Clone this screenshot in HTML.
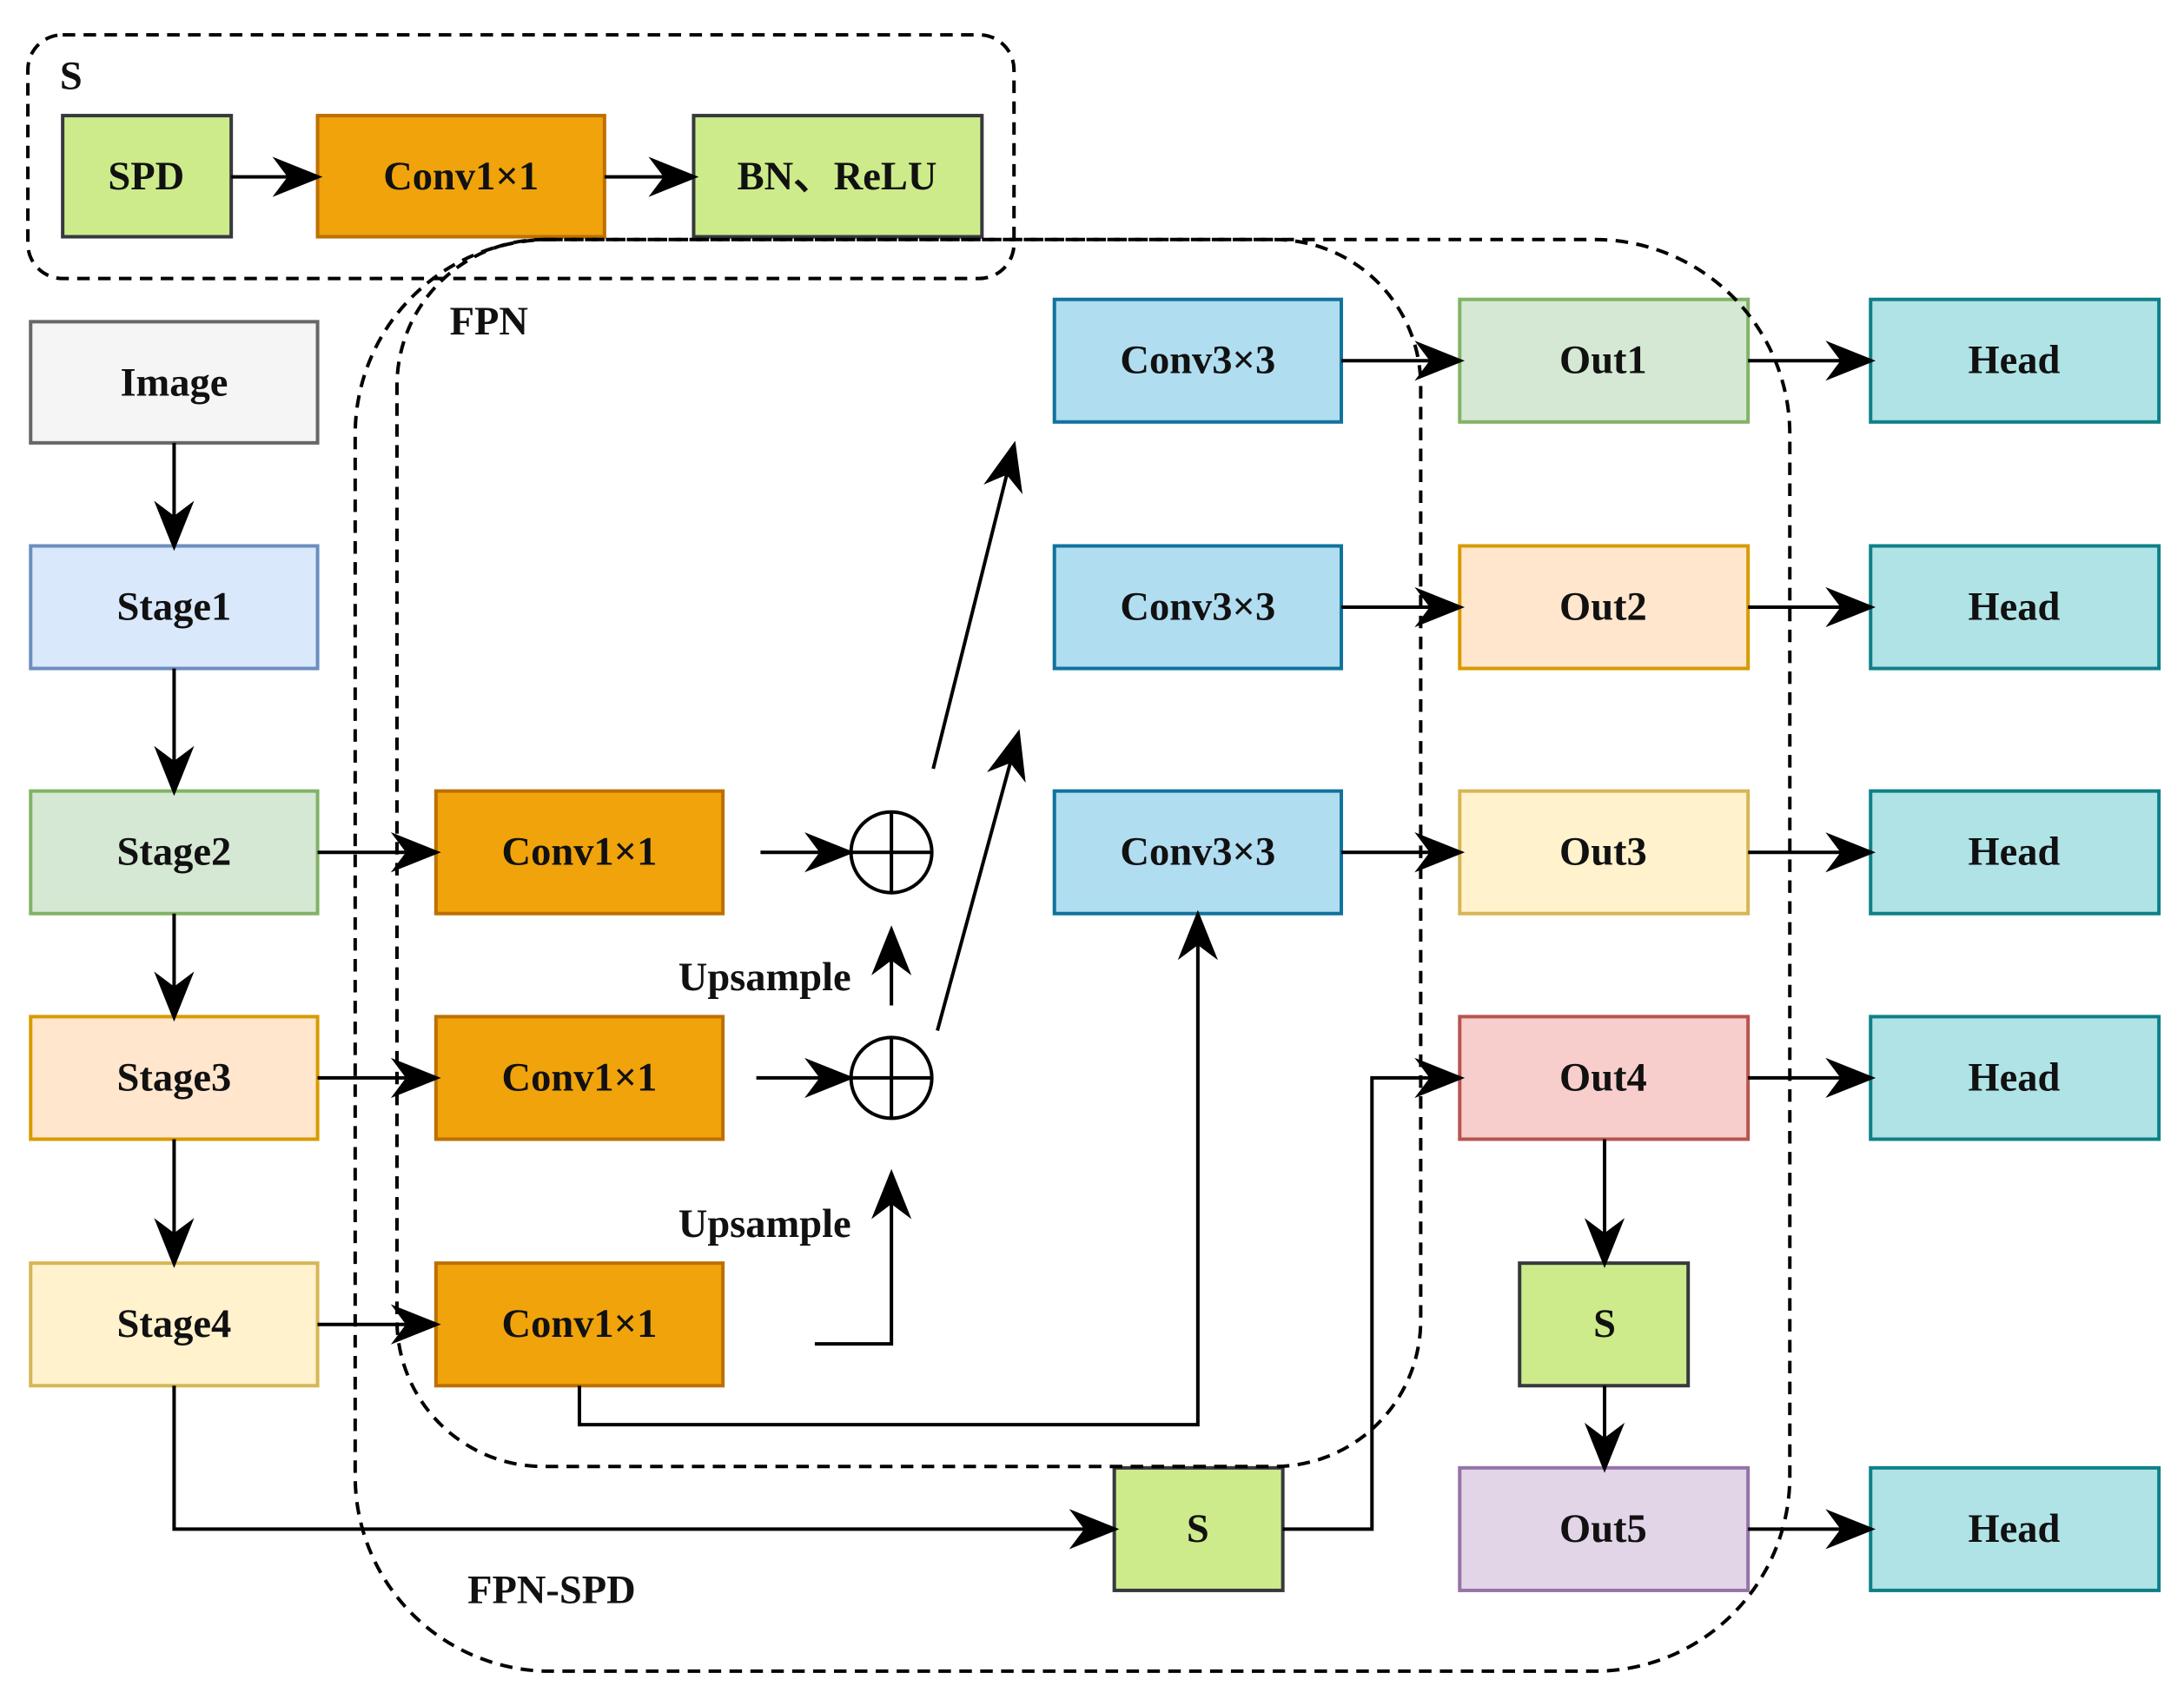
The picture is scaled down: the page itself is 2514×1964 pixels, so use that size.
<!DOCTYPE html>
<html><head><meta charset="utf-8"><style>
html,body{margin:0;padding:0;background:#fff;}
svg{display:block;}
text{font-family:"Liberation Serif",serif;font-weight:bold;font-size:29px;text-anchor:middle;dominant-baseline:central;fill:#111;}
</style></head><body>
<svg width="2514" height="1964" viewBox="0 0 1568 1225" preserveAspectRatio="none" xmlns="http://www.w3.org/2000/svg">
<defs>
<marker id="b" viewBox="0 0 10 10" refX="9" refY="5" markerWidth="36" markerHeight="36" markerUnits="userSpaceOnUse" orient="auto">
<path d="M0,1 L10,5 L0,9 L3,5 z" fill="#000"/></marker>
</defs>
<g stroke-width="2.5">
<rect x="45" y="83" width="121" height="87" fill="#cdeb8b" stroke="#36393d"/>
<rect x="228" y="83" width="206" height="87" fill="#f0a30a" stroke="#bd7000"/>
<rect x="498" y="83" width="207" height="87" fill="#cdeb8b" stroke="#36393d"/>
<rect x="22" y="231" width="206" height="87" fill="#f5f5f5" stroke="#666"/>
<rect x="22" y="392" width="206" height="88" fill="#dae8fc" stroke="#6c8ebf"/>
<rect x="22" y="568" width="206" height="88" fill="#d5e8d4" stroke="#82b366"/>
<rect x="22" y="730" width="206" height="88" fill="#ffe6cc" stroke="#d79b00"/>
<rect x="22" y="907" width="206" height="88" fill="#fff2cc" stroke="#d6b656"/>
<rect x="313" y="568" width="206" height="88" fill="#f0a30a" stroke="#bd7000"/>
<rect x="313" y="730" width="206" height="88" fill="#f0a30a" stroke="#bd7000"/>
<rect x="313" y="907" width="206" height="88" fill="#f0a30a" stroke="#bd7000"/>
<rect x="757" y="215" width="206" height="88" fill="#b1ddf0" stroke="#10739e"/>
<rect x="757" y="392" width="206" height="88" fill="#b1ddf0" stroke="#10739e"/>
<rect x="757" y="568" width="206" height="88" fill="#b1ddf0" stroke="#10739e"/>
<rect x="1048" y="215" width="207" height="88" fill="#d5e8d4" stroke="#82b366"/>
<rect x="1048" y="392" width="207" height="88" fill="#ffe6cc" stroke="#d79b00"/>
<rect x="1048" y="568" width="207" height="88" fill="#fff2cc" stroke="#d6b656"/>
<rect x="1048" y="730" width="207" height="88" fill="#f8cecc" stroke="#b85450"/>
<rect x="1048" y="1054" width="207" height="88" fill="#e1d5e7" stroke="#9673a6"/>
<rect x="1091" y="907" width="121" height="88" fill="#cdeb8b" stroke="#36393d"/>
<rect x="800" y="1054" width="121" height="88" fill="#cdeb8b" stroke="#36393d"/>
<rect x="1343" y="215" width="207" height="88" fill="#b0e3e6" stroke="#0e8088"/>
<rect x="1343" y="392" width="207" height="88" fill="#b0e3e6" stroke="#0e8088"/>
<rect x="1343" y="568" width="207" height="88" fill="#b0e3e6" stroke="#0e8088"/>
<rect x="1343" y="730" width="207" height="88" fill="#b0e3e6" stroke="#0e8088"/>
<rect x="1343" y="1054" width="207" height="88" fill="#b0e3e6" stroke="#0e8088"/>
</g>
<g fill="none" stroke="#000" stroke-width="2.5">
<circle cx="640" cy="612" r="29"/><path d="M611,612H669M640,583V641"/>
<circle cx="640" cy="774" r="29"/><path d="M611,774H669M640,745V803"/>
</g>
<g fill="none" stroke="#000" stroke-width="2.5" marker-end="url(#b)">
<path d="M166,127H228"/><path d="M434,127H498"/>
<path d="M125,318V392"/><path d="M125,480V568"/><path d="M125,656V730"/><path d="M125,818V907"/>
<path d="M228,612H313"/><path d="M228,774H313"/><path d="M228,951H313"/>
<path d="M546,612H610"/><path d="M543,774H610"/>
<path d="M640,722V668"/><path d="M585,965H640V843"/>
<path d="M670,552L728,320"/><path d="M673,740L731,527"/>
<path d="M416,995V1023H860V657"/>
<path d="M125,995V1098H800"/>
<path d="M921,1098H985V774H1048"/>
<path d="M963,259H1048"/><path d="M963,436H1048"/><path d="M963,612H1048"/>
<path d="M1255,259H1343"/><path d="M1255,436H1343"/><path d="M1255,612H1343"/><path d="M1255,774H1343"/><path d="M1255,1098H1343"/>
<path d="M1152,818V907"/><path d="M1152,995V1054"/>
</g>
<g fill="none" stroke="#000" stroke-width="2.5" stroke-dasharray="9,6">
<rect x="20" y="25" width="708" height="175" rx="25"/>
<rect x="285" y="172" width="735" height="881" rx="105"/>
<rect x="255" y="172" width="1030" height="1028" rx="140"/>
</g>
<text x="51" y="55">S</text>
<text x="105" y="127">SPD</text>
<text x="331" y="127">Conv1×1</text>
<text x="601" y="127">BN、ReLU</text>
<text x="125" y="275" fill="#333">Image</text>
<text x="125" y="436">Stage1</text>
<text x="125" y="612">Stage2</text>
<text x="125" y="774">Stage3</text>
<text x="125" y="951">Stage4</text>
<text x="416" y="612">Conv1×1</text>
<text x="416" y="774">Conv1×1</text>
<text x="416" y="951">Conv1×1</text>
<text x="860" y="259">Conv3×3</text>
<text x="860" y="436">Conv3×3</text>
<text x="860" y="612">Conv3×3</text>
<text x="1151" y="259">Out1</text>
<text x="1151" y="436">Out2</text>
<text x="1151" y="612">Out3</text>
<text x="1151" y="774">Out4</text>
<text x="1151" y="1098">Out5</text>
<text x="1152" y="951">S</text>
<text x="860" y="1098">S</text>
<text x="1446" y="259">Head</text>
<text x="1446" y="436">Head</text>
<text x="1446" y="612">Head</text>
<text x="1446" y="774">Head</text>
<text x="1446" y="1098">Head</text>
<text x="549" y="702">Upsample</text>
<text x="549" y="879">Upsample</text>
<text x="351" y="231">FPN</text>
<text x="396" y="1142">FPN-SPD</text>
</svg>
</body></html>
